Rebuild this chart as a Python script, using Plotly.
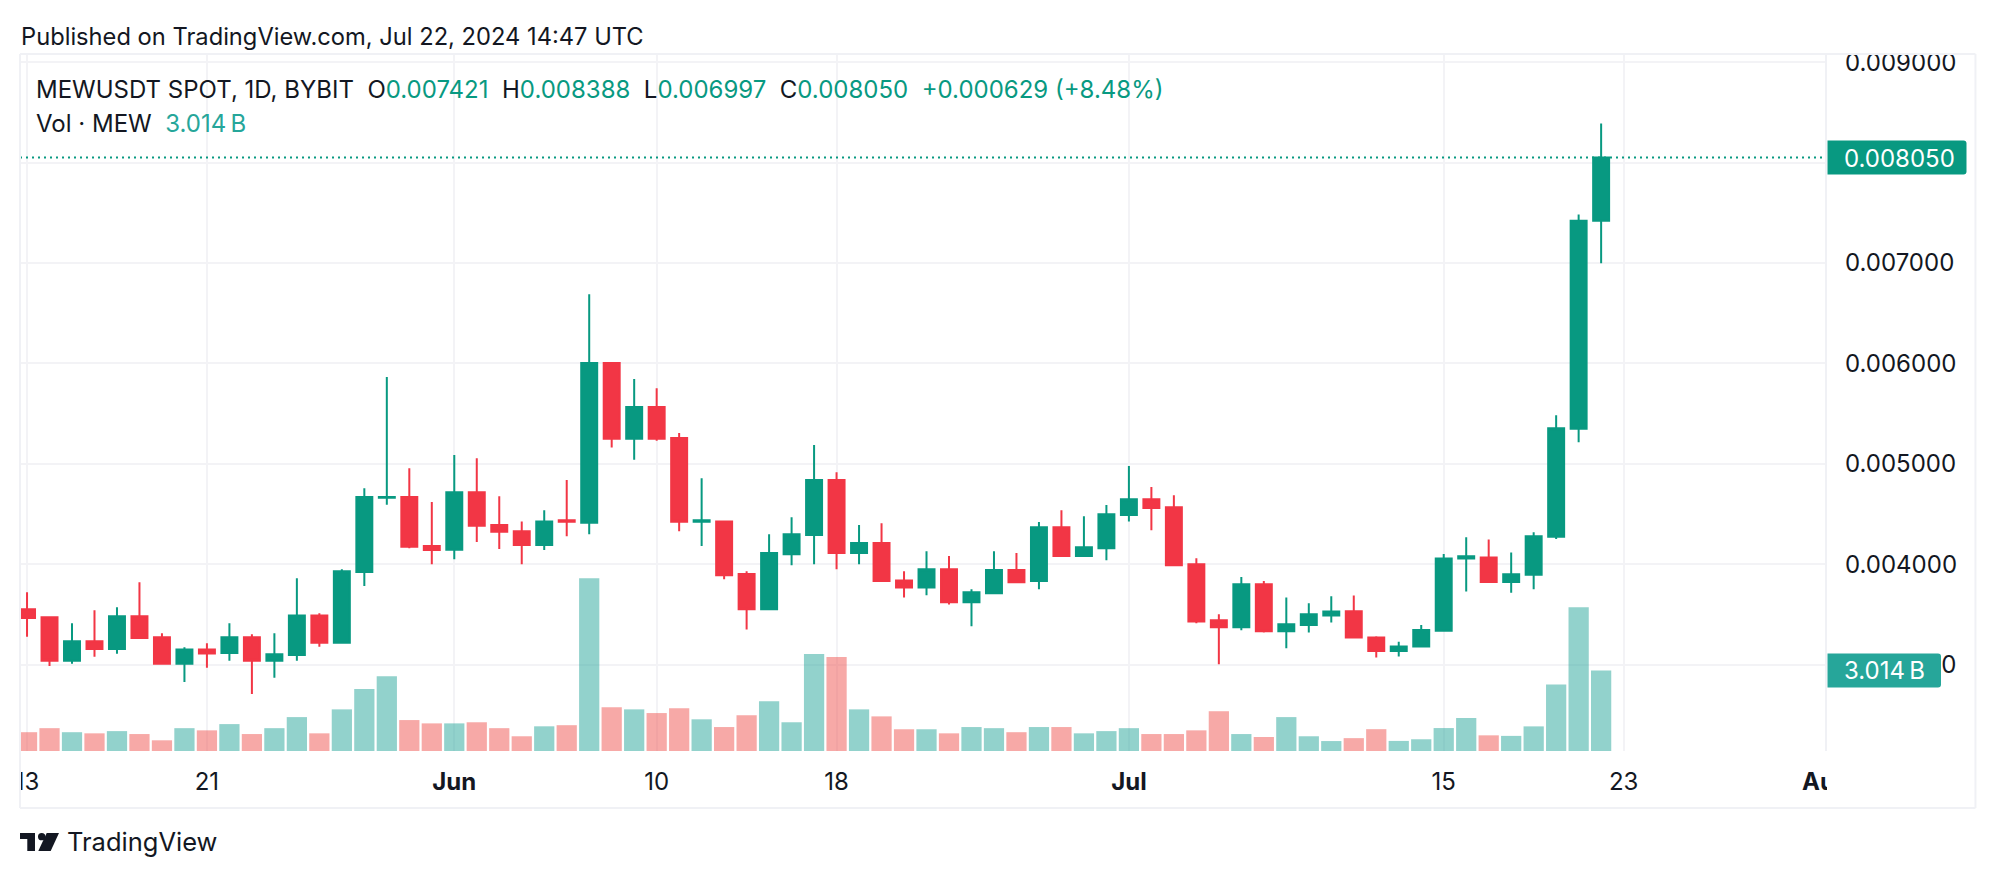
import plotly.graph_objects as go

# daily candles, May 13 to Jul 22 2024
dates = [f"2024-05-{d:02d}" for d in range(13, 32)] + \
    [f"2024-06-{d:02d}" for d in range(1, 31)] + \
    [f"2024-07-{d:02d}" for d in range(1, 23)]

opens = [0.003552, 0.003471, 0.003037, 0.003232, 0.003155, 0.003482, 0.003272, 0.003007, 0.003151, 0.003114,
         0.003272, 0.003037, 0.003096, 0.003489, 0.003217, 0.003923, 0.004661, 0.004669, 0.004180,
         0.004143, 0.004717, 0.004390, 0.004327, 0.004191, 0.004437, 0.004412, 0.006003, 0.005250, 0.005566,
         0.005257, 0.004423, 0.004426, 0.003901, 0.003552, 0.004099, 0.004290, 0.004838, 0.004110, 0.004210,
         0.003838, 0.003768, 0.003949, 0.003621, 0.003710, 0.003941, 0.003831, 0.004368, 0.004081, 0.004158,
         0.004489, 0.004647, 0.004566, 0.004000, 0.003441, 0.003371, 0.003801, 0.003331, 0.003393, 0.003489,
         0.003532, 0.003270, 0.003136, 0.003181, 0.003337, 0.004056, 0.004067, 0.003822, 0.003894, 0.004273,
         0.005348, 0.007421]
highs = [0.003721, 0.003482, 0.003412, 0.003541, 0.003570, 0.003820, 0.003313, 0.003173, 0.003213, 0.003412,
         0.003302, 0.003313, 0.003860, 0.003511, 0.003949, 0.004757, 0.005864, 0.004956, 0.004618,
         0.005088, 0.005055, 0.004676, 0.004426, 0.004537, 0.004838, 0.006687, 0.006003, 0.005845, 0.005753,
         0.005305, 0.004856, 0.004426, 0.003930, 0.004298, 0.004467, 0.005187, 0.004915, 0.004390, 0.004408,
         0.003930, 0.004129, 0.004081, 0.003750, 0.004129, 0.004110, 0.004419, 0.004537, 0.004478, 0.004588,
         0.004978, 0.004768, 0.004687, 0.004059, 0.003500, 0.003871, 0.003831, 0.003669, 0.003610, 0.003680,
         0.003688, 0.003281, 0.003226, 0.003393, 0.004100, 0.004267, 0.004245, 0.004117, 0.004318, 0.005482,
         0.007482, 0.008388]
lows = [0.003276, 0.002985, 0.003007, 0.003077, 0.003107, 0.003265, 0.003007, 0.002827, 0.002967, 0.003037,
        0.002706, 0.002868, 0.003037, 0.003177, 0.003206, 0.003783, 0.004592, 0.004158, 0.004000,
        0.004048, 0.004221, 0.004151, 0.004000, 0.004140, 0.004279, 0.004298, 0.005162, 0.005040, 0.005228,
        0.004327, 0.004180, 0.003849, 0.003349, 0.003552, 0.003989, 0.004000, 0.003949, 0.004000, 0.003831,
        0.003669, 0.003691, 0.003599, 0.003382, 0.003699, 0.003820, 0.003750, 0.004070, 0.004081, 0.004040,
        0.004426, 0.004338, 0.003978, 0.003412, 0.003004, 0.003342, 0.003320, 0.003162, 0.003320, 0.003419,
        0.003270, 0.003070, 0.003081, 0.003181, 0.003337, 0.003727, 0.003822, 0.003716, 0.003749, 0.004251,
        0.005214, 0.006997]
closes = [0.003463, 0.003037, 0.003232, 0.003155, 0.003482, 0.003265, 0.003007, 0.003151, 0.003110, 0.003272,
          0.003037, 0.003103, 0.003489, 0.003217, 0.003930, 0.004669, 0.004669, 0.004173, 0.004140,
          0.004717, 0.004382, 0.004323, 0.004191, 0.004426, 0.004423, 0.006003, 0.005250, 0.005566, 0.005250,
          0.004423, 0.004437, 0.003890, 0.003552, 0.004110, 0.004298, 0.004838, 0.004110, 0.004210, 0.003831,
          0.003768, 0.003949, 0.003621, 0.003721, 0.003941, 0.003820, 0.004368, 0.004081, 0.004169, 0.004496,
          0.004647, 0.004559, 0.003989, 0.003430, 0.003371, 0.003801, 0.003331, 0.003401, 0.003500, 0.003529,
          0.003270, 0.003136, 0.003181, 0.003343, 0.004056, 0.004078, 0.003822, 0.003900, 0.004279, 0.005354,
          0.007421, 0.008050]
volumes = [0.703, 0.854, 0.703, 0.661, 0.744, 0.634, 0.400, 0.854, 0.772, 1.006,
           0.634, 0.854, 1.268, 0.661, 1.557, 2.315, 2.797, 1.157, 1.033,
           1.033, 1.075, 0.854, 0.551, 0.923, 0.965, 6.463, 1.640, 1.557, 1.419,
           1.598, 1.185, 0.896, 1.337, 1.860, 1.075, 3.624, 3.514, 1.557, 1.295,
           0.813, 0.813, 0.661, 0.896, 0.854, 0.703, 0.896, 0.896, 0.661, 0.744,
           0.854, 0.634, 0.634, 0.772, 1.488, 0.634, 0.524, 1.268, 0.551, 0.372,
           0.481, 0.816, 0.377, 0.439, 0.858, 1.234, 0.586, 0.565, 0.921, 2.490,
           5.377, 3.014]

price_ticks = [0.003, 0.004, 0.005, 0.006, 0.007, 0.008, 0.009]
price_tick_labels = ["0.003000", "0.004000", "0.005000", "0.006000", "0.007000", "", "0.009000"]
time_ticks = ["2024-05-13", "2024-05-21", "2024-06-01", "2024-06-10", "2024-06-18",
              "2024-07-01", "2024-07-15", "2024-07-23", "2024-08-01"]
time_tick_labels = ["13", "21", "<b>Jun</b>", "10", "18", "<b>Jul</b>", "15", "23", "<b>Aug</b>"]

GREEN = "#089981"
RED = "#F23645"
TEAL = "#26a69a"
INK = "#131722"
GRID = "#f3f3f6"
FONT = "Inter"

# pane edges in page pixels
LEFT, RIGHT, TOP, BOTTOM = 20, 1826.5, 53.5, 751


def px(x):
    return (x - LEFT) / (RIGHT - LEFT)


def py(y):
    return (BOTTOM - y) / (BOTTOM - TOP)


def label(x, y, text, color=INK, size=24):
    # annotations carry 2px of padding, take it off here
    return dict(xref="paper", yref="paper", x=px(x - 2), y=py(y), text=text, showarrow=False,
                xanchor="left", yanchor="middle", align="left", font=dict(family=FONT, size=size, color=color))


def poly(points, color):
    path = "M " + " L ".join(f"{px(a):.5f} {py(b):.5f}" for a, b in points) + " Z"
    return dict(type="path", xref="paper", yref="paper", path=path, fillcolor=color, line=dict(width=0))


def box(x0, y0, x1, y1, color):
    return poly([(x0, y0), (x1, y0), (x1, y1), (x0, y1)], color)


def frame_line(x0, y0, x1, y1):
    return dict(type="line", xref="paper", yref="paper", x0=px(x0), y0=py(y0), x1=px(x1), y1=py(y1),
                line=dict(color="#f0f1f5", width=2))


def tag(width, yanchor, color, yref):
    # sharp on the axis side, rounded on the other
    w = width
    path = f"M 0 -17 L {w - 3} -17 Q {w} -17 {w} -14 L {w} 14 Q {w} 17 {w - 3} 17 L 0 17 Z"
    return dict(type="path", xref="paper", yref=yref, xsizemode="pixel", ysizemode="pixel",
                xanchor=1 + 1.5 / (RIGHT - LEFT), yanchor=yanchor, path=path, fillcolor=color, line=dict(width=0))


vol_colors = ["rgba(38,166,154,0.5)" if c >= o else "rgba(239,83,80,0.5)" for o, c in zip(opens, closes)]

fig = go.Figure()
fig.add_trace(go.Candlestick(
    x=dates, open=opens, high=highs, low=lows, close=closes,
    increasing=dict(line=dict(color=GREEN, width=2), fillcolor=GREEN),
    decreasing=dict(line=dict(color=RED, width=2), fillcolor=RED),
    showlegend=False,
))
fig.add_trace(go.Bar(x=dates, y=volumes, marker=dict(color=vol_colors, line=dict(width=0)),
                     yaxis="y2", showlegend=False))

shapes = [
    # last price line
    dict(type="line", xref="paper", x0=0, x1=1, yref="y", y0=closes[-1], y1=closes[-1],
         line=dict(color=GREEN, width=2, dash="2px,4px")),
    # clip the axis labels at the pane edges
    box(0, 752, LEFT - 0.5, 806, "white"),
    box(RIGHT + 1, 752, 1974, 806, "white"),
    box(RIGHT + 1, 40, 1974, TOP, "white"),
    # frame
    frame_line(LEFT, TOP, 1976, TOP),
    frame_line(LEFT, 808, 1976, 808),
    frame_line(LEFT, TOP, LEFT, 808),
    frame_line(1976, TOP, 1976, 808),
    frame_line(RIGHT, TOP, RIGHT, BOTTOM),
    # value tags
    tag(139, closes[-1], GREEN, "y"),
    tag(113.5, 0.00294, TEAL, "y"),
    # logo
    poly([(20, 833), (35, 833), (35, 851), (27.3, 851), (27.3, 839), (20, 839)], INK),
    dict(type="circle", xref="paper", yref="paper", x0=px(38), x1=px(45.4), y0=py(833), y1=py(840.4),
         fillcolor=INK, line=dict(width=0)),
    poly([(46.7, 833), (59, 833), (50.7, 851), (38.3, 851)], INK),
]

gr = f'<span style="color:{GREEN}">'
nb = "\u00a0\u00a0"
legend_text = (f"MEWUSDT SPOT, 1D, BYBIT{nb}O{gr}0.007421</span>{nb}H{gr}0.008388</span>"
               f"{nb}L{gr}0.006997</span>{nb}C{gr}0.008050</span>{nb}{gr}+0.000629 (+8.48%)</span>")

annotations = [
    label(20.5, 36, "Published on TradingView.com, Jul 22, 2024 14:47 UTC", size=23.7),
    label(36.5, 89, legend_text),
    label(36.5, 123, f'Vol · MEW{nb}<span style="color:{TEAL}">3.014\u2009B</span>'),
    label(67, 842, "TradingView", size=25.5),
    label(1845, 158, "0.008050", color="white"),
    label(1845, 670, "3.014\u2009B", color="white"),
]

fig.update_layout(
    width=1996, height=878, autosize=False,
    margin=dict(l=LEFT, r=1996 - RIGHT, t=TOP, b=878 - BOTTOM, pad=0),
    paper_bgcolor="white", plot_bgcolor="white",
    font=dict(family=FONT, size=24, color=INK),
    boxgap=0.29, boxgroupgap=0, bargap=0.1, barmode="overlay",
    shapes=shapes, annotations=annotations,
    xaxis=dict(type="date", range=["2024-05-12 16:30", "2024-08-01 00:00"], rangeslider=dict(visible=False),
               tickmode="array", tickvals=time_ticks, ticktext=time_tick_labels, ticks="",
               showgrid=True, gridcolor=GRID, gridwidth=2, zeroline=False, showline=False, tickangle=0,
               ticklabelstandoff=14),
    yaxis=dict(range=[0.002139, 0.009081], side="right", tickmode="array", tickvals=price_ticks,
               ticktext=price_tick_labels, ticks="", showgrid=True, gridcolor=GRID, gridwidth=2,
               zeroline=False, showline=False, ticklabelstandoff=18),
    yaxis2=dict(range=[0, 26.07], overlaying="y", visible=False),
)

fig.write_html("out.html", config=dict(displayModeBar=False),
               post_script="document.body.style.margin='0';document.body.style.overflow='hidden';")
